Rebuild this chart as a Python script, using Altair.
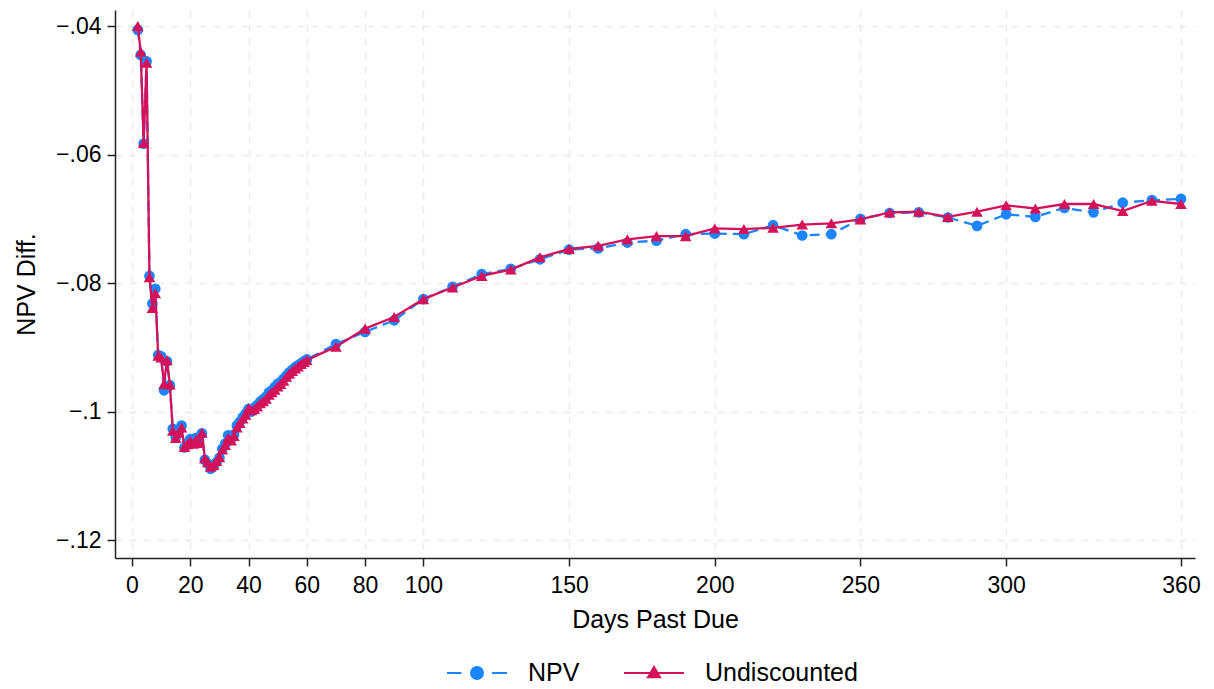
import altair as alt
import pandas as pd

# ---- data ----
days_early = list(range(2, 61))
days_late = list(range(70, 361, 10))
days = days_early + days_late

npv_early = [-0.0406, -0.0445, -0.0583, -0.0455, -0.0789, -0.0832, -0.0809, -0.0912, -0.0914, -0.0967,
             -0.0922, -0.0959, -0.1027, -0.1040, -0.1029, -0.1022, -0.1056, -0.1050, -0.1043, -0.1046,
             -0.1041, -0.1046, -0.1034, -0.1075, -0.1081, -0.1089, -0.1085, -0.1079, -0.1072, -0.1058,
             -0.1050, -0.1037, -0.1043, -0.1036, -0.1022, -0.1016, -0.1009, -0.1003, -0.0996, -0.1000,
             -0.0994, -0.0990, -0.0985, -0.0981, -0.0977, -0.0970, -0.0967, -0.0962, -0.0957, -0.0954,
             -0.0949, -0.0944, -0.0939, -0.0935, -0.0931, -0.0928, -0.0925, -0.0922, -0.0919]
npv_late = [-0.0895, -0.0876, -0.0858, -0.0825, -0.0806, -0.0786, -0.0778, -0.0763, -0.0748, -0.0746,
            -0.0737, -0.0734, -0.0724, -0.0723, -0.0724, -0.0710, -0.0726, -0.0724, -0.0700, -0.0691,
            -0.0690, -0.0698, -0.0711, -0.0693, -0.0697, -0.0683, -0.0690, -0.0675, -0.0671, -0.0669]

und_early = [-0.0400, -0.0440, -0.0582, -0.0457, -0.0791, -0.0839, -0.0816, -0.0913, -0.0916, -0.0957,
             -0.0920, -0.0958, -0.1030, -0.1041, -0.1033, -0.1025, -0.1055, -0.1051, -0.1046, -0.1050,
             -0.1044, -0.1049, -0.1033, -0.1073, -0.1079, -0.1086, -0.1083, -0.1077, -0.1071, -0.1059,
             -0.1052, -0.1041, -0.1045, -0.1038, -0.1025, -0.1018, -0.1011, -0.1005, -0.0995, -0.0998,
             -0.0996, -0.0992, -0.0987, -0.0984, -0.0980, -0.0974, -0.0970, -0.0966, -0.0961, -0.0957,
             -0.0952, -0.0946, -0.0941, -0.0937, -0.0933, -0.0930, -0.0926, -0.0923, -0.0920]
und_late = [-0.0899, -0.0871, -0.0853, -0.0825, -0.0807, -0.0789, -0.0779, -0.0760, -0.0747, -0.0742,
            -0.0732, -0.0727, -0.0727, -0.0715, -0.0716, -0.0714, -0.0709, -0.0707, -0.0701, -0.0690,
            -0.0689, -0.0697, -0.0689, -0.0679, -0.0684, -0.0677, -0.0677, -0.0688, -0.0672, -0.0677]

npv = npv_early + npv_late
und = und_early + und_late

series_names = ["NPV", "Undiscounted"]
colors = ["#1A85FF", "#D41159"]
x_ticks = [0, 20, 40, 60, 80, 100, 150, 200, 250, 300, 360]
y_ticks = [-0.12, -0.10, -0.08, -0.06, -0.04]

df = pd.DataFrame({
    "day": days + days,
    "value": npv + und,
    "series": [series_names[0]] * len(days) + [series_names[1]] * len(days),
})

FONT = "Liberation Sans"

x_enc = alt.X("day:Q",
              scale=alt.Scale(domain=[-5.83, 364.8], nice=False, zero=False),
              axis=alt.Axis(values=x_ticks, title="Days Past Due", labelPadding=8,
                            titlePadding=10, format="d"))
y_enc = alt.Y("value:Q",
              scale=alt.Scale(domain=[-0.1228, -0.0375], nice=False, zero=False),
              axis=alt.Axis(values=y_ticks, title="NPV Diff.", labelPadding=6, titlePadding=16,
                            labelExpr="replace(format(datum.value, '~g'), '0.', '.')"))

base = alt.Chart(df).encode(x=x_enc, y=y_enc)

npv_line = base.transform_filter("datum.series == 'NPV'").mark_line(
    color=colors[0], strokeWidth=2.3, strokeDash=[10, 6])
npv_pts = base.transform_filter("datum.series == 'NPV'").mark_point(
    shape="circle", filled=True, size=115, color=colors[0], opacity=1)
und_line = base.transform_filter("datum.series == 'Undiscounted'").mark_line(
    color=colors[1], strokeWidth=2.3)
und_pts = base.transform_filter("datum.series == 'Undiscounted'").mark_point(
    shape="triangle-up", filled=True, size=135, color=colors[1], opacity=1)

# legend-only layer (no marks drawn), symbols are line+marker paths
npv_sym = ("M-1,0H-0.52M0.5,0H1"
           "M0,-0.2A0.2,0.2 0 1,1 0,0.2A0.2,0.2 0 1,1 0,-0.2Z")
und_sym = "M-1,0H1M-0.2,0.14L0,-0.2L0.2,0.14Z"

leg = alt.Legend(title=None, orient="none", legendX=331, legendY=632, direction="horizontal",
                 symbolSize=3600, symbolStrokeWidth=2, labelFontSize=25, labelFont=FONT,
                 labelColor="black", labelOffset=20, columnPadding=40, padding=0)

legend_layer = alt.Chart(df).transform_filter("false").mark_point(filled=True, opacity=1).encode(
    x=x_enc, y=y_enc,
    fill=alt.Fill("series:N", scale=alt.Scale(domain=series_names, range=colors), legend=leg),
    stroke=alt.Stroke("series:N", scale=alt.Scale(domain=series_names, range=colors), legend=leg),
    shape=alt.Shape("series:N", scale=alt.Scale(domain=series_names, range=[npv_sym, und_sym]),
                    legend=leg),
)

chart = alt.layer(npv_line, npv_pts, und_line, und_pts, legend_layer).properties(
    width=1080, height=548,
    autosize=alt.AutoSizeParams(type="none"),
    padding={"left": 115, "top": 10, "right": 19, "bottom": 131},
    background="white",
).configure_view(stroke=None).configure_axis(
    domainColor="#222", domainWidth=1.5,
    tickColor="#222", tickWidth=1.5, tickSize=8,
    labelFont=FONT, labelFontSize=23, labelColor="black",
    titleFont=FONT, titleFontSize=25, titleFontWeight="normal", titleColor="black",
    grid=True, gridColor="#ebebeb", gridDash=[7, 7], gridWidth=1.5,
)

chart.save("out.html", embed_options={"renderer": "svg", "actions": False})
